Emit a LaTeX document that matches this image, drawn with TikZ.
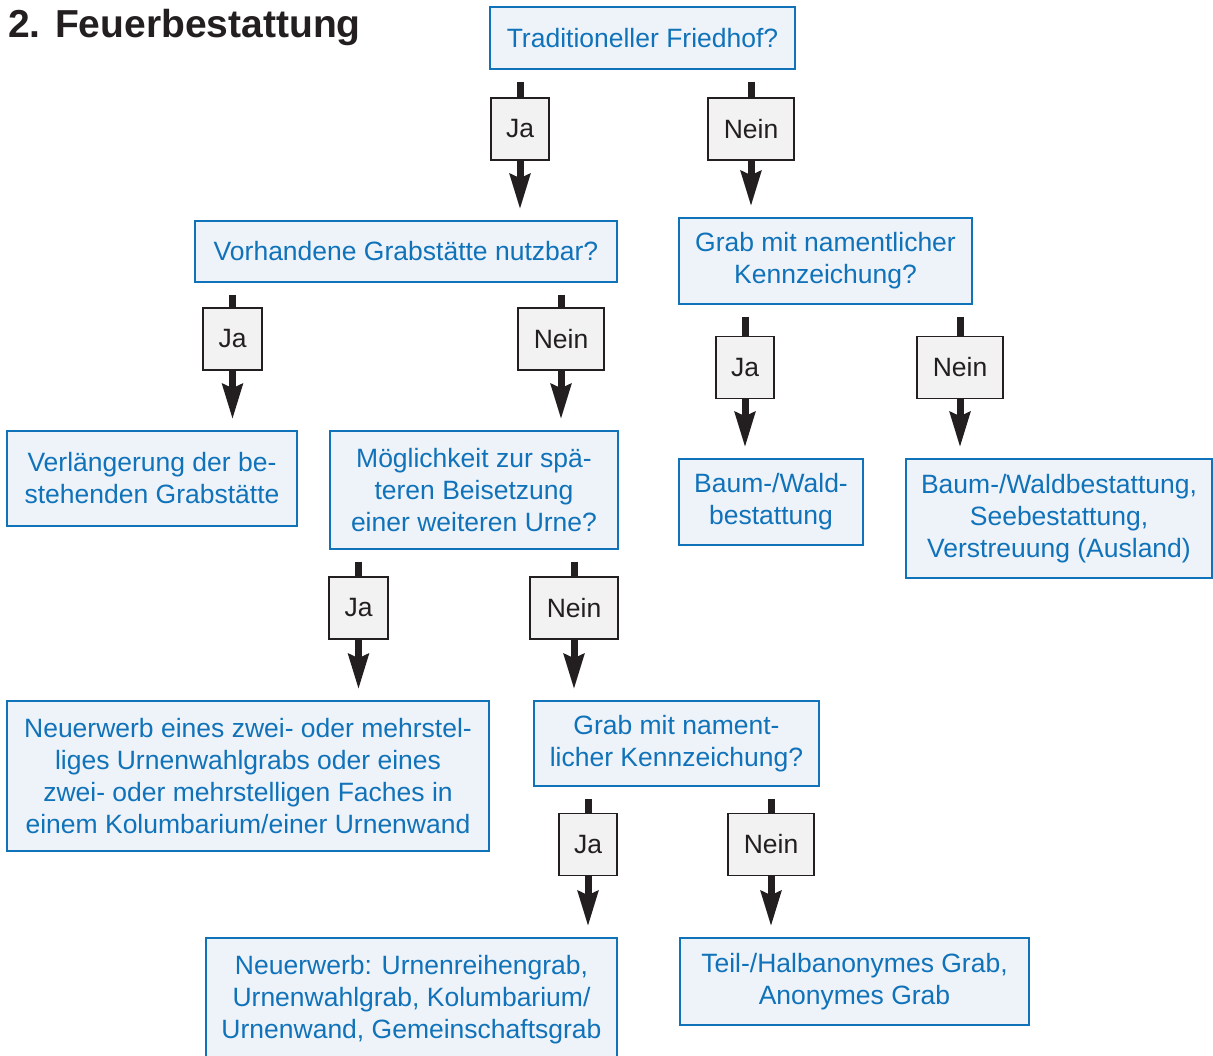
\documentclass[tikz,border=0pt]{standalone}
\usepackage{fontspec}
\setmainfont{Liberation Sans}
\usetikzlibrary{arrows.meta}
\definecolor{bblue}{HTML}{1072B9}
\definecolor{bfill}{HTML}{EEF3FA}
\definecolor{lfill}{HTML}{F2F2F3}
\definecolor{ink}{HTML}{231F20}
\newcommand\fsz{\fontsize{26.5}{32}\selectfont}
\begin{document}
\begin{tikzpicture}[x=1pt,y=-1pt,
  qbox/.style={draw=bblue, line width=1.5pt, fill=bfill, text=bblue, align=center, inner sep=0pt, font=\fsz},
  lab/.style={draw=ink, line width=1.3pt, fill=lfill, text=ink, inner sep=0pt, minimum height=62pt, font=\fsz},
  stemline/.style={draw=ink, line width=7pt, shorten <=12pt},
  arr/.style={draw=ink, line width=7pt, shorten >=11pt, -{Stealth[length=35pt,width=20pt,inset=4pt]}}]
\clip (0,0) rectangle (1213,1056);
\fill[white] (0,0) rectangle (1213,1056);

\node[anchor=base west, inner sep=0pt, text=ink, font=\fontsize{39}{46}\selectfont\bfseries] (title) at (8,38) {2. Feuerbestattung};

% question / result boxes
\node[qbox, minimum width=305pt, minimum height=62pt] (T) at (642.5,38) {Traditioneller Friedhof?};
\node[qbox, minimum width=422pt, minimum height=61pt] (V) at (406,251.5) {Vorhandene Grabstätte nutzbar?};
\node[qbox, minimum width=293pt, minimum height=86pt] (G1) at (825.5,261) {Grab mit namentlicher\\Kennzeichung?};
\node[qbox, minimum width=290pt, minimum height=95pt] (L) at (152,478.5) {Verlängerung der be-\\stehenden Grabstätte};
\node[qbox, minimum width=288pt, minimum height=118pt] (M) at (474,490) {Möglichkeit zur spä-\\teren Beisetzung\\einer weiteren Urne?};
\node[qbox, minimum width=184pt, minimum height=86pt] (B1) at (771,502) {Baum-/Wald-\\bestattung};
\node[qbox, minimum width=306pt, minimum height=119pt] (B2) at (1059,518.5) {Baum-/Waldbestattung,\\Seebestattung,\\Verstreuung (Ausland)};
\node[qbox, minimum width=482pt, minimum height=150pt] (N) at (248,776) {Neuerwerb eines zwei- oder mehrstel-\\liges Urnenwahlgrabs oder eines\\zwei- oder mehrstelligen Faches in\\einem Kolumbarium/einer Urnenwand};
\node[qbox, minimum width=285pt, minimum height=85pt] (G2) at (676.5,743.5) {Grab mit nament-\\licher Kennzeichung?};
\node[qbox, minimum width=411pt, minimum height=124pt] (U) at (411.5,1000) {Neuerwerb: Urnenreihengrab,\\Urnenwahlgrab, Kolumbarium/\\Urnenwand, Gemeinschaftsgrab};
\node[qbox, minimum width=349pt, minimum height=87pt] (A) at (854.5,981.5) {Teil-/Halbanonymes Grab,\\Anonymes Grab};

% Ja / Nein labels
\node[lab, minimum width=58pt] (j1) at (520,129) {Ja};
\node[lab, minimum width=86pt] (n1) at (751,129) {Nein};
\node[lab, minimum width=59pt] (j2) at (232.5,339) {Ja};
\node[lab, minimum width=86pt] (n2) at (561,339) {Nein};
\node[lab, minimum width=58pt] (j3) at (745,367.5) {Ja};
\node[lab, minimum width=86pt] (n3) at (960,367.5) {Nein};
\node[lab, minimum width=59pt] (j4) at (358.5,608) {Ja};
\node[lab, minimum width=88pt] (n4) at (574,608) {Nein};
\node[lab, minimum width=58pt] (j5) at (588,844.5) {Ja};
\node[lab, minimum width=86pt] (n5) at (771,844.5) {Nein};

% connectors
\foreach \p/\l/\c in {T/j1/V, T/n1/G1, V/j2/L, V/n2/M, G1/j3/B1, G1/n3/B2, M/j4/N, M/n4/G2, G2/j5/U, G2/n5/A}{
  \draw[stemline] (\l |- \p.south) -- (\l.north);
  \draw[arr] (\l.south) -- (\l |- \c.north);
}
\end{tikzpicture}
\end{document}
